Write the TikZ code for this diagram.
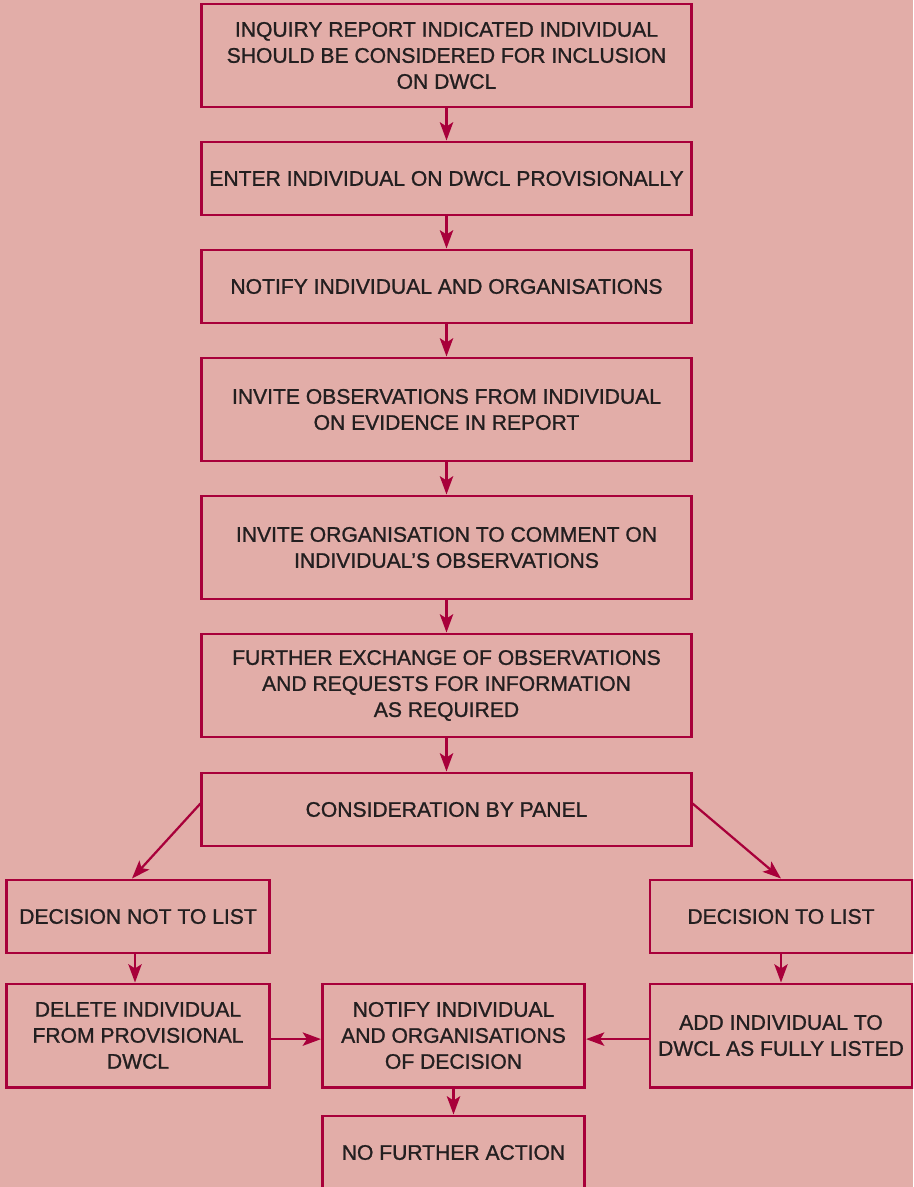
\documentclass[tikz,border=0pt]{standalone}
\usepackage{fontspec}
\setmainfont{Liberation Sans}[FakeBold=1.1]
\usepackage{xcolor}
\usetikzlibrary{positioning, arrows.meta}
\definecolor{nenhong}{HTML}{E2ADA8}
\definecolor{dodam}{HTML}{A8003A}
\definecolor{chuxam}{HTML}{231F20}

\begin{document}
\begin{tikzpicture}[x=0.025cm, y=-0.025cm, >={Stealth[length=13pt, width=9.5pt, inset=3pt]},
    hop/.style={draw=dodam, line width=2.1pt, text=chuxam, align=center, inner sep=0pt,
        font=\fontsize{15}{18.5}\selectfont},
    rong/.style={hop, minimum width=12.225cm},
    hep/.style={hop, minimum width=6.55cm},
    thap/.style={minimum height=1.825cm},
    cao/.style={minimum height=2.575cm},
    muiten/.style={->, draw=dodam, line width=1.6pt}]
    % Khung nền
    \useasboundingbox (0,0) rectangle (913,1187);
    \clip (0,0) rectangle (913,1187);
    \fill[nenhong] (0,0) rectangle (913,1187);

    % Cột giữa
    \node[rong, cao] (inquiry) at (446.5,55.5) {INQUIRY REPORT INDICATED INDIVIDUAL\\SHOULD BE CONSIDERED FOR INCLUSION\\ON DWCL};
    \node[rong, thap] (enter) at (446.5,178.5) {ENTER INDIVIDUAL ON DWCL PROVISIONALLY};
    \node[rong, thap] (notify) at (446.5,286.5) {NOTIFY INDIVIDUAL AND ORGANISATIONS};
    \node[rong, cao] (invite) at (446.5,409.5) {INVITE OBSERVATIONS FROM INDIVIDUAL\\ON EVIDENCE IN REPORT};
    \node[rong, cao] (comment) at (446.5,547.5) {INVITE ORGANISATION TO COMMENT ON\\INDIVIDUAL’S OBSERVATIONS};
    \node[rong, cao] (exchange) at (446.5,685.5) {FURTHER EXCHANGE OF OBSERVATIONS\\AND REQUESTS FOR INFORMATION\\AS REQUIRED};
    \node[rong, thap] (panel) at (446.5,809.5) {CONSIDERATION BY PANEL};

    % Hai nhánh quyết định
    \node[hep, thap] (notlist) at (138,916.5) {DECISION NOT TO LIST};
    \node[hep, thap] (tolist) at (781,916.5) {DECISION TO LIST};
    \node[hep, cao] (delete) at (138,1035.5) {DELETE INDIVIDUAL\\FROM PROVISIONAL\\DWCL};
    \node[hep, cao] (decision) at (453.5,1035.5) {NOTIFY INDIVIDUAL\\AND ORGANISATIONS\\OF DECISION};
    \node[hep, cao] (add) at (781,1035.5) {ADD INDIVIDUAL TO\\DWCL AS FULLY LISTED};
    \node[hep, thap] (noaction) at (453.5,1152.5) {NO FURTHER ACTION};

    % Mũi tên
    \draw[muiten] (inquiry) -- (enter);
    \draw[muiten] (enter) -- (notify);
    \draw[muiten] (notify) -- (invite);
    \draw[muiten] (invite) -- (comment);
    \draw[muiten] (comment) -- (exchange);
    \draw[muiten] (exchange) -- (panel);
    \draw[muiten] ([yshift=0.15cm]panel.west) -- ([xshift=-0.15cm]notlist.north);
    \draw[muiten] ([yshift=0.15cm]panel.east) -- (tolist.north);
    \draw[muiten] ([xshift=-0.075cm]notlist.south) -- ([xshift=-0.075cm]delete.north);
    \draw[muiten] (tolist) -- (add);
    \draw[muiten] ([yshift=-0.09cm]delete.east) -- ([yshift=-0.09cm]decision.west);
    \draw[muiten] ([yshift=-0.09cm]add.west) -- ([yshift=-0.09cm]decision.east);
    \draw[muiten] (decision) -- (noaction);
\end{tikzpicture}
\end{document}
